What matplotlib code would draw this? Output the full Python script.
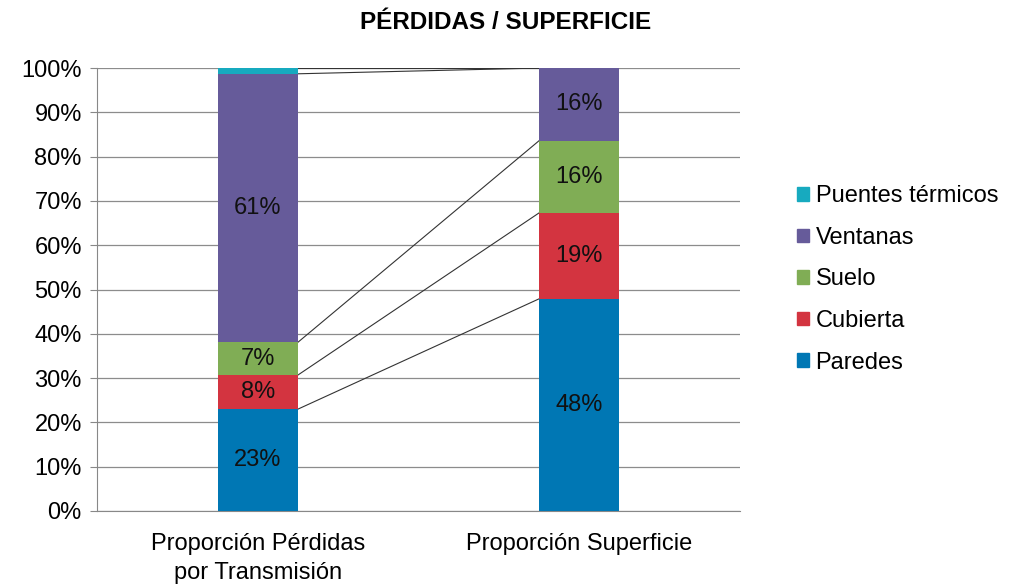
import numpy as np
import matplotlib.pyplot as plt
from matplotlib.patches import Patch

plt.rcParams['font.family'] = ['Liberation Sans', 'DejaVu Sans']

categories = ['Proporción Pérdidas\npor Transmisión', 'Proporción Superficie']
series = ['Paredes', 'Cubierta', 'Suelo', 'Ventanas', 'Puentes térmicos']
perdidas = [23.0, 7.7, 7.4, 60.6, 1.3]
superficie = [47.9, 19.4, 16.3, 16.4, 0.0]
colors = ['#0077b4', '#d33440', '#80ad55', '#665b9a', '#17aabf']

fs = 17

fig = plt.figure(figsize=(10.28, 5.87), dpi=100)
ax = fig.add_axes([0.0944, 0.1295, 0.6255, 0.7546])

x = np.arange(len(categories))
width = 0.25
values = np.array([perdidas, superficie])
bottoms = np.zeros(len(categories))
tops = []
for i, name in enumerate(series):
    vals = values[:, i]
    ax.bar(x, vals, width, bottom=bottoms, color=colors[i], zorder=3)
    for j, v in enumerate(vals):
        if v >= 5:
            ax.text(x[j], bottoms[j] + v / 2, '{:.0f}%'.format(v),
                    ha='center', va='center', fontsize=fs, color='#111111', zorder=4)
    bottoms = bottoms + vals
    tops.append(bottoms.copy())

# series lines between the two stacks
for t in tops:
    ax.plot([x[0] + width / 2, x[1] - width / 2], [t[0], t[1]],
            color='#333333', lw=0.8, zorder=2)

ax.set_xlim(-0.5, 1.5)
ax.set_ylim(0, 100)
ax.set_yticks(np.arange(0, 101, 10))
ax.set_yticklabels(['{}%'.format(v) for v in range(0, 101, 10)])
ax.set_xticks(x)
ax.set_xticklabels(categories, linespacing=1.4)
ax.tick_params(axis='y', labelsize=fs, length=5, color='#888888', pad=6)
ax.tick_params(axis='x', labelsize=fs, length=0, pad=16)
ax.grid(axis='y', color='#8c8c8c', lw=0.9, zorder=0)
for s in ['top', 'right']:
    ax.spines[s].set_visible(False)
for s in ['left', 'bottom']:
    ax.spines[s].set_color('#888888')

fig.suptitle('PÉRDIDAS / SUPERFICIE', x=0.492, y=0.982, fontsize=17.5, fontweight='bold')

handles = [Patch(color=colors[i], label=series[i]) for i in range(len(series) - 1, -1, -1)]
fig.legend(handles=handles, loc='center left', bbox_to_anchor=(0.775, 0.524),
           frameon=False, fontsize=fs, handlelength=0.5, handleheight=0.5,
           handletextpad=0.3, labelspacing=0.83, borderpad=0, borderaxespad=0)

fig.savefig('out.png', dpi=100)
